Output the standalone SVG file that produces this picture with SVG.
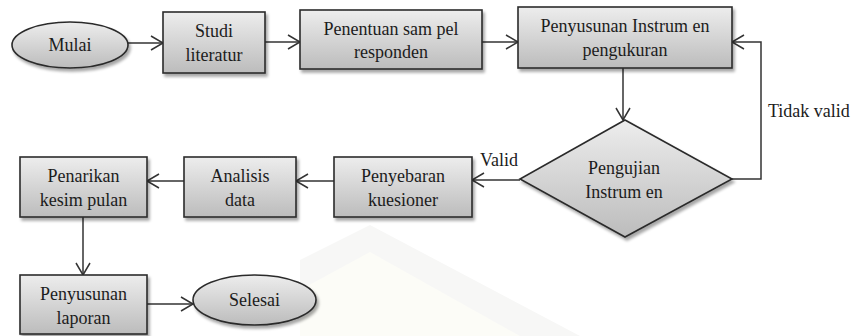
<svg xmlns="http://www.w3.org/2000/svg" width="856" height="336" viewBox="0 0 856 336">
  <defs>
    <linearGradient id="g" x1="0" y1="0" x2="0" y2="1">
      <stop offset="0" stop-color="#ededed"/>
      <stop offset="1" stop-color="#bcbcbc"/>
    </linearGradient>
    <filter id="sh" x="-10%" y="-10%" width="130%" height="140%">
      <feGaussianBlur in="SourceAlpha" stdDeviation="1.5"/>
      <feOffset dx="2" dy="3" result="b"/>
      <feComponentTransfer><feFuncA type="linear" slope="0.35"/></feComponentTransfer>
      <feMerge><feMergeNode/><feMergeNode in="SourceGraphic"/></feMerge>
    </filter>
    <marker id="arr" markerUnits="userSpaceOnUse" markerWidth="16" markerHeight="18" refX="13" refY="8" orient="auto">
      <path d="M1,1 L13,8 L1,15" fill="none" stroke="#333" stroke-width="1.5"/>
    </marker>
  </defs>
  <style>
    .shape { fill: url(#g); stroke: #2b2b2b; stroke-width: 1.6; filter: url(#sh); }
    text { font-family: 'Liberation Serif', 'DejaVu Serif', 'Times New Roman', serif; font-size: 18px; fill: #1c1c1c; }
    .t { text-anchor: middle; }
    .c { fill: none; stroke: #333; stroke-width: 1.5; marker-end: url(#arr); }
  </style>
  <rect width="856" height="336" fill="#ffffff"/>
  <g id="watermark">
    <polygon points="370,225 580,336 300,336 300,260" fill="#f7f7f6"/>
    <polygon points="370,252 520,336 300,336 300,290" fill="#fcfcf7"/>
  </g>

  <g id="connectors">
    <line class="c" x1="128" y1="43" x2="163" y2="43"/>
    <line class="c" x1="265" y1="42" x2="300" y2="42"/>
    <line class="c" x1="482" y1="42" x2="518" y2="42"/>
    <line class="c" x1="623" y1="68" x2="623" y2="120"/>
    <polyline class="c" points="732,179 761,179 761,42 732,42"/>
    <line class="c" x1="520" y1="180" x2="472" y2="180"/>
    <line class="c" x1="334" y1="181" x2="296" y2="181"/>
    <line class="c" x1="184" y1="181" x2="147" y2="181"/>
    <line class="c" x1="83" y1="217" x2="83" y2="275"/>
    <line class="c" x1="147" y1="304" x2="193" y2="304"/>
    <text x="480" y="166" font-family="Liberation Serif, serif">Valid</text>
    <text x="768" y="117" font-family="Liberation Serif, serif">Tidak valid</text>
  </g>

  <g id="mulai">
    <ellipse class="shape" cx="70" cy="45" rx="58" ry="23"/>
    <text class="t" x="70" y="51">Mulai</text>
  </g>
  <g id="studi">
    <rect class="shape" x="163" y="12" width="102" height="61"/>
    <text class="t" x="214" y="37">Studi</text>
    <text class="t" x="214" y="61">literatur</text>
  </g>
  <g id="penentuan">
    <rect class="shape" x="300" y="10" width="182" height="59"/>
    <text class="t" x="391" y="35">Penentuan sam pel</text>
    <text class="t" x="391" y="58">responden</text>
  </g>
  <g id="penyusunan-instrumen">
    <rect class="shape" x="518" y="7" width="214" height="61"/>
    <text class="t" x="625" y="32">Penyusunan Instrum en</text>
    <text class="t" x="625" y="56">pengukuran</text>
  </g>
  <g id="pengujian">
    <polygon class="shape" points="625,120 732,179 625,237 520,179"/>
    <text class="t" x="624" y="174">Pengujian</text>
    <text class="t" x="624" y="198">Instrum en</text>
  </g>
  <g id="penyebaran">
    <rect class="shape" x="334" y="157" width="138" height="60"/>
    <text class="t" x="403" y="182">Penyebaran</text>
    <text class="t" x="403" y="206">kuesioner</text>
  </g>
  <g id="analisis">
    <rect class="shape" x="184" y="157" width="112" height="60"/>
    <text class="t" x="240" y="182">Analisis</text>
    <text class="t" x="240" y="206">data</text>
  </g>
  <g id="penarikan">
    <rect class="shape" x="20" y="157" width="127" height="60"/>
    <text class="t" x="83.5" y="182">Penarikan</text>
    <text class="t" x="83.5" y="206">kesim pulan</text>
  </g>
  <g id="penyusunan-laporan">
    <rect class="shape" x="20" y="275" width="127" height="59"/>
    <text class="t" x="83.5" y="300">Penyusunan</text>
    <text class="t" x="83.5" y="324">laporan</text>
  </g>
  <g id="selesai">
    <ellipse class="shape" cx="254.5" cy="300" rx="61.5" ry="25"/>
    <text class="t" x="254.5" y="306">Selesai</text>
  </g>
</svg>
